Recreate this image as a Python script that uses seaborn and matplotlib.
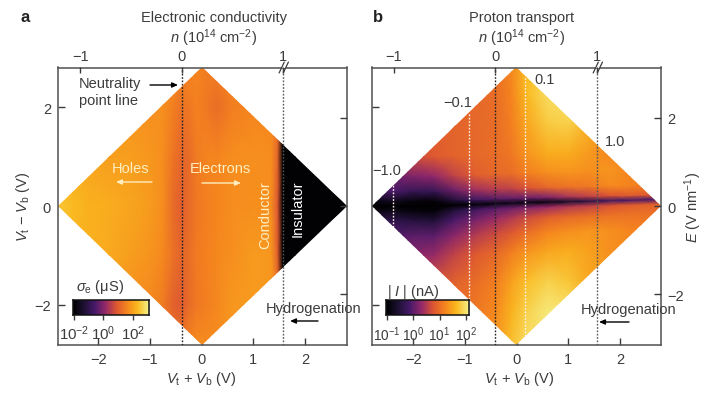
import matplotlib
matplotlib.use("Agg")
import numpy as np
import matplotlib.pyplot as plt
from matplotlib.patches import Polygon
from matplotlib.colors import Normalize
import seaborn as sns

# ---------- data (log10 values) ----------
a_x = [-2.8, -2.5, -2.2, -1.8, -1.4, -1.0, -0.75, -0.55, -0.4, -0.25, -0.1, 0.1, 0.3, 0.6, 1.0, 1.35, 1.47, 1.57, 2.85]
a_y = [-2.85, -2.0, -1.0, 0.0, 1.0, 2.0, 2.85]
a_row_m28 = [1.9, 1.9, 1.85, 1.8, 1.7, 1.6, 1.5, 1.3, 1.4, 1.6, 1.7, 1.7, 1.7, 1.8, 1.8, 1.8, 1.7, -2.0, -2.0]
a_row_m20 = [2.0, 2.0, 1.95, 1.85, 1.75, 1.65, 1.45, 1.05, 0.95, 1.2, 1.4, 1.5, 1.65, 1.85, 1.9, 1.85, 1.5, -2.0, -2.0]
a_row_m10 = [2.3, 2.25, 2.2, 2.1, 1.95, 1.8, 1.65, 1.3, 1.1, 1.25, 1.45, 1.55, 1.65, 1.75, 1.9, 1.85, 1.0, -2.0, -2.0]
a_row_00 = [2.5, 2.35, 2.2, 2.15, 2.05, 1.9, 1.7, 1.2, 1.0, 1.2, 1.4, 1.5, 1.6, 1.7, 1.75, 1.7, 0.9, -2.0, -2.0]
a_row_p10 = [2.2, 2.15, 2.05, 1.95, 1.95, 1.85, 1.7, 1.35, 1.15, 1.2, 1.45, 1.6, 1.6, 1.7, 1.75, 1.7, 1.1, -2.0, -2.0]
a_row_p20 = [1.9, 1.9, 1.85, 1.85, 1.8, 1.75, 1.75, 1.5, 1.3, 1.4, 1.55, 1.4, 1.25, 1.5, 1.6, 1.6, 1.4, -2.0, -2.0]
a_row_p28 = [1.7, 1.7, 1.7, 1.7, 1.7, 1.7, 1.7, 1.7, 1.6, 1.6, 1.6, 1.5, 1.5, 1.6, 1.6, 1.6, 1.6, -2.0, -2.0]

b_x = [-2.85, -2.4, -2.0, -1.6, -1.2, -0.8, -0.4, -0.1, 0.2, 0.6, 1.0, 1.4, 1.8, 2.2, 2.85]
b_offset = [-3.2, -2.2, -1.6, -1.0, -0.6, -0.3, -0.1, 0.0, 0.1, 0.3, 0.6, 1.0, 1.6, 2.2, 3.2]
b_band = [0.0, 0.0, 0.0, 0.0, 0.02, 0.03, 0.05, 0.06, 0.07, 0.08, 0.09, 0.10, 0.11, 0.12, 0.14]
b_row_m32 = [0.9, 0.9, 0.9, 1.0, 1.1, 1.2, 1.4, 1.75, 2.0, 2.1, 2.1, 1.9, 1.6, 1.4, 1.2]
b_row_m22 = [0.8, 0.8, 0.8, 0.9, 1.0, 1.1, 1.25, 1.6, 1.85, 2.05, 2.0, 1.7, 1.5, 1.3, 1.2]
b_row_m16 = [0.6, 0.6, 0.7, 0.8, 0.9, 1.0, 1.15, 1.45, 1.7, 1.85, 1.75, 1.5, 1.4, 1.3, 1.2]
b_row_m10 = [0.1, 0.2, 0.25, 0.35, 0.6, 0.8, 0.95, 1.15, 1.35, 1.5, 1.55, 1.45, 1.3, 1.25, 1.2]
b_row_m06 = [-0.2, -0.1, 0.0, 0.0, 0.25, 0.5, 0.65, 0.8, 1.0, 1.2, 1.3, 1.35, 1.3, 1.2, 1.15]
b_row_m03 = [-0.3, -0.35, -0.45, -0.5, -0.1, 0.15, 0.35, 0.5, 0.65, 0.85, 0.95, 1.0, 1.05, 1.05, 1.05]
b_row_m01 = [-0.9, -0.8, -0.9, -0.95, -0.5, -0.2, 0.0, 0.1, 0.2, 0.35, 0.5, 0.6, 0.75, 0.85, 0.9]
b_row_00 = [-1.0, -1.0, -1.0, -1.0, -1.0, -0.95, -0.85, -0.8, -0.85, -0.85, -0.6, -0.4, -0.2, -0.1, -0.1]
b_row_p01 = [-0.9, -0.75, -0.9, -0.95, -0.5, -0.2, 0.0, 0.05, 0.1, 0.2, 0.45, 0.6, 0.75, 0.85, 0.85]
b_row_p03 = [-0.1, -0.1, -0.3, -0.3, 0.1, 0.4, 0.55, 0.6, 0.75, 0.95, 1.05, 1.1, 1.25, 1.2, 1.1]
b_row_p06 = [0.1, 0.1, 0.2, 0.3, 0.6, 0.85, 0.95, 1.0, 1.15, 1.3, 1.35, 1.3, 1.35, 1.2, 1.15]
b_row_p10 = [0.6, 0.6, 0.65, 0.8, 0.9, 0.95, 1.0, 1.1, 1.35, 1.55, 1.55, 1.4, 1.2, 1.2, 1.2]
b_row_p16 = [0.8, 0.8, 0.85, 0.9, 0.9, 0.95, 1.0, 1.15, 1.5, 1.8, 1.85, 1.6, 1.4, 1.3, 1.2]
b_row_p22 = [0.9, 0.9, 0.9, 0.95, 0.95, 0.95, 1.0, 1.2, 1.65, 1.95, 2.05, 1.85, 1.5, 1.3, 1.2]
b_row_p32 = [1.0, 1.0, 1.0, 1.0, 1.0, 1.0, 1.05, 1.25, 1.7, 1.95, 2.05, 1.9, 1.6, 1.4, 1.2]

a_scale = (-2.05, 3.05)
b_scale = (-1.02, 2.1)
cmap_stops = ["#000000", "#1c1032", "#461969", "#93286a", "#dc5532", "#f5841e", "#fab91e", "#f6ee84"]
bottom_ticks = [-2, -1, 0, 1, 2]
left_ticks = [-2, 0, 2]
right_ticks = [-2, 0, 2]
top_labels = ["\u22121", "0", "1"]
a_top_pos = [-2.35, -0.38, 1.58]
b_top_pos = [-2.37, -0.41, 1.56]
b_white_lines = [-2.38, -0.92, 0.16]
a_cbar_ticks = [-2, 0, 2]
b_cbar_ticks = [-1, 0, 1, 2]

# ---------- style ----------
sns.set_theme(style="ticks")
INK = "#3c3c3c"
FS = 10.5
plt.rcParams.update({
    "font.family": ["Liberation Sans", "DejaVu Sans"],
    "mathtext.fontset": "custom",
    "mathtext.rm": "Liberation Sans",
    "mathtext.it": "Liberation Sans:italic",
    "mathtext.bf": "Liberation Sans:bold",
    "font.size": FS,
    "text.color": INK,
    "axes.edgecolor": "#505050",
    "axes.linewidth": 1.1,
    "xtick.color": INK,
    "ytick.color": INK,
})
W, H = 719, 402
fig = plt.figure(figsize=(W / 100, H / 100), dpi=100)
cmap = sns.blend_palette(cmap_stops, as_cmap=True)


def box(x0, y0, x1, y1):
    return [x0 / W, 1 - y1 / H, (x1 - x0) / W, (y1 - y0) / H]


def txt(x, y, s, **kw):
    kw.setdefault("ha", "center")
    kw.setdefault("va", "center")
    kw.setdefault("fontsize", FS)
    fig.text(x / W, 1 - y / H, s, **kw)


def arrow(x0, y0, x1, y1, color="black"):
    fig.add_artist(plt.Annotation(
        "", xy=(x1 / W, 1 - y1 / H), xytext=(x0 / W, 1 - y0 / H),
        xycoords="figure fraction", textcoords="figure fraction", zorder=10,
        arrowprops=dict(arrowstyle="-|>,head_length=0.32,head_width=0.14", color=color, lw=1,
                        shrinkA=0, shrinkB=0)))


def panel(rect, xlim, ylim, X, Y, Z, scale, top_pos, diamond):
    ax = fig.add_axes(box(*rect))
    ax.set_xlim(*xlim)
    ax.set_ylim(*ylim)
    mesh = ax.pcolormesh(X, Y, Z, shading="gouraud", cmap=cmap,
                         norm=Normalize(*scale), rasterized=True)
    clip = Polygon(diamond, closed=True, transform=ax.transData)
    mesh.set_clip_path(clip)
    ax.set_xticks(bottom_ticks)
    ax.set_yticks(left_ticks)
    ax.tick_params(direction="in", length=5, width=1, labelsize=FS, pad=5)
    top = ax.twiny()
    top.set_xlim(*xlim)
    top.set_xticks(top_pos)
    top.set_xticklabels(top_labels)
    top.tick_params(direction="in", length=4, width=1, labelsize=FS, pad=3)
    right = ax.twinx()
    right.set_ylim(ylim[0] / 0.894, ylim[1] / 0.894)
    right.set_yticks(right_ticks)
    right.tick_params(direction="in", length=5, width=1, labelsize=FS, pad=5)
    for s in list(top.spines.values()) + list(right.spines.values()):
        s.set_visible(False)
    for p in top_pos[1:]:
        ax.axvline(p, color="#222222" if p < 0 else "#555555", lw=1.0, ls=(0, (1.2, 1.2)), zorder=3)
    # axis break at n = 1
    xb = top_pos[2]
    for dx in (-0.03, 0.05):
        ax.plot([xb + dx - 0.05, xb + dx + 0.05], [ylim[1] - 0.11, ylim[1] + 0.11],
                color=INK, lw=0.9, clip_on=False, zorder=6)
    ax.plot([xb - 0.02, xb + 0.04], [ylim[1], ylim[1]], color="white", lw=1.6, clip_on=False, zorder=5)
    return ax, right


def colorbar(rect, scale, ticks, size):
    cax = fig.add_axes(box(*rect))
    levels = np.linspace(scale[0], scale[1], 200)[None, :]
    sns.heatmap(levels, ax=cax, cmap=cmap, vmin=scale[0], vmax=scale[1], cbar=False,
                xticklabels=False, yticklabels=False, rasterized=True)
    n = levels.shape[1]
    cax.set_xticks([(t - scale[0]) / (scale[1] - scale[0]) * n for t in ticks])
    cax.set_xticklabels(["$10^{%s}$" % str(t).replace("-", "\u2212") for t in ticks])
    cax.set_yticks([])
    cax.tick_params(axis="x", direction="out", length=3.5, width=1, labelsize=size, pad=3, rotation=0)
    for s in cax.spines.values():
        s.set_visible(True)
        s.set_linewidth(1.1)
        s.set_edgecolor("#111111")
    return cax


# ---------- panel a ----------
Za = np.array([a_row_m28, a_row_m20, a_row_m10, a_row_00, a_row_p10, a_row_p20, a_row_p28])
Xa, Ya = np.meshgrid(a_x, a_y)
axa, ra = panel((58, 68.5, 347.3, 346), (-2.78, 2.82), (-2.81, 2.8), Xa, Ya, Za, a_scale, a_top_pos,
                [(-2.78, 0), (0.01, 2.8), (2.82, 0), (0.01, -2.81)])
ra.set_yticklabels([])
colorbar((73, 300.5, 148.5, 315.7), a_scale, a_cbar_ticks, FS + 0.3)

# ---------- panel b ----------
Zb = np.array([b_row_m32, b_row_m22, b_row_m16, b_row_m10, b_row_m06, b_row_m03, b_row_m01, b_row_00,
               b_row_p01, b_row_p03, b_row_p06, b_row_p10, b_row_p16, b_row_p22, b_row_p32])
Xb = np.tile(b_x, (len(b_offset), 1))
Yb = np.array(b_offset)[:, None] + np.array(b_band)[None, :]
axb, rb = panel((371.7, 68.5, 660.7, 346), (-2.80, 2.785), (-2.81, 2.8), Xb, Yb, Zb, b_scale, b_top_pos,
                [(-2.80, 0), (-0.01, 2.8), (2.785, 0), (-0.01, -2.81)])
axb.set_yticklabels([])
for xv, half in zip(b_white_lines, (0.42, 1.88, 2.62)):
    axb.plot([xv, xv], [-half, half], color="#fff3ea", lw=1.0, ls=(0, (1.2, 1.2)), zorder=4)
colorbar((386, 301, 468.7, 316), b_scale, b_cbar_ticks, FS - 0.7)

# ---------- text ----------
MINUS = "\u2212"
n_label = r"$\mathit{n}$ (10$^{14}$ cm$^{" + MINUS + "2}$)"
vsum = r"$\mathit{V}_{\mathrm{t}}$ + $\mathit{V}_{\mathrm{b}}$ (V)"
txt(25, 17, "a", fontweight="bold", fontsize=12, color="#222222")
txt(378, 17, "b", fontweight="bold", fontsize=12, color="#222222")
txt(214, 18, "Electronic conductivity")
txt(522, 18, "Proton transport")
txt(214, 38, n_label)
txt(522, 38, n_label)
txt(23, 207, r"$\mathit{V}_{\mathrm{t}}$ " + MINUS + r" $\mathit{V}_{\mathrm{b}}$ (V)", rotation=90)
txt(201, 379, vsum)
txt(519, 379, vsum)
txt(693, 207, r"$\mathit{E}$ (V nm$^{" + MINUS + "1}$)", rotation=90)
txt(79, 84, "Neutrality", ha="left")
txt(79, 101, "point line", ha="left")
txt(131, 169, "Holes", color="#ffeec0")
txt(220, 169, "Electrons", color="#ffeec0")
txt(265, 215, "Conductor", color="#ffeec0", rotation=90)
txt(298, 209, "Insulator", color="white", rotation=90)
txt(314, 309, "Hydrogenation")
txt(629, 310, "Hydrogenation")
txt(100, 287, r"$\mathit{\sigma}_{\mathrm{e}}$ ($\mathrm{\mu}$S)")
txt(413, 292, r"| $\mathit{I}$ | (nA)")
txt(545, 80, "0.1")
txt(458, 103, MINUS + "0.1")
txt(615, 142, "1.0")
txt(387, 171, MINUS + "1.0")
arrow(150, 86, 178, 86)
arrow(152, 183, 116, 183, color="#ffeec0")
arrow(202, 184, 241, 184, color="#ffeec0")
arrow(318, 322, 290, 322)
arrow(629, 323, 599, 323)

fig.savefig("out.png", dpi=100)
